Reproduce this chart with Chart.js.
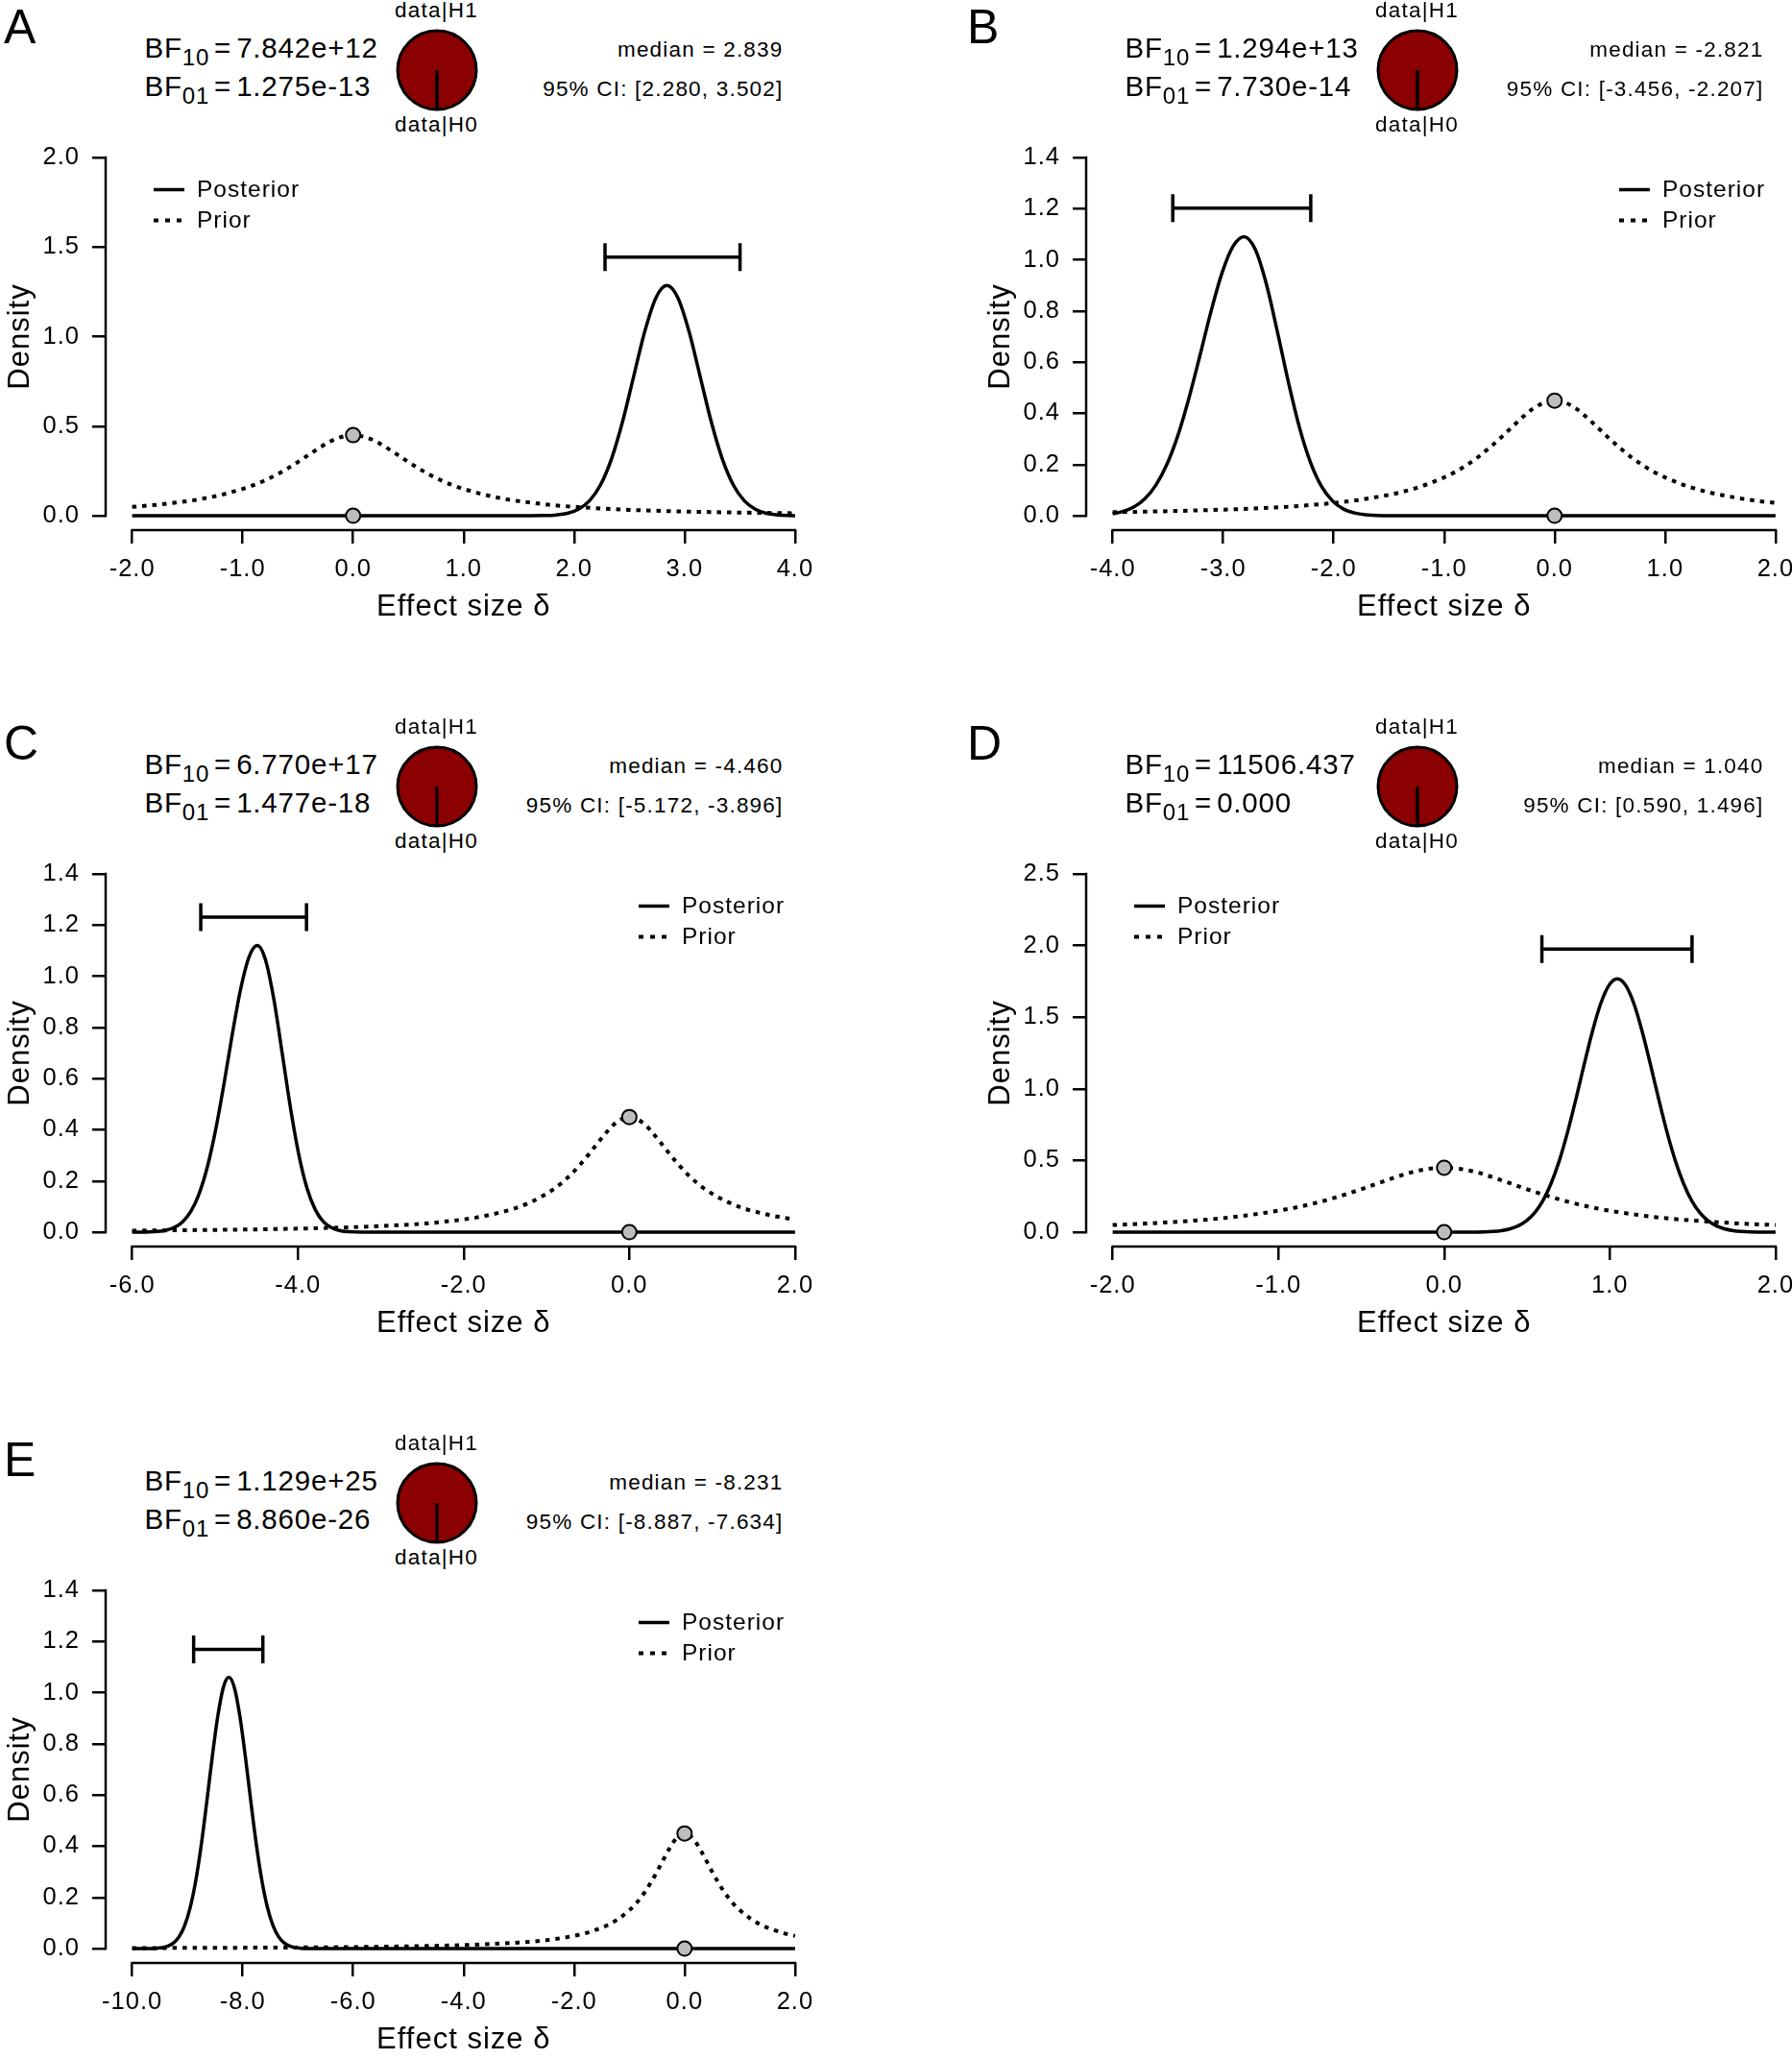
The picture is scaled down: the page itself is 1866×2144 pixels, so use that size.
<!DOCTYPE html>
<html>
<head>
<meta charset="utf-8">
<title>Bayesian t-test posteriors</title>
<script src="https://cdn.jsdelivr.net/npm/chart.js@4.4.1/dist/chart.umd.min.js"></script>
<style>
  html, body { margin: 0; padding: 0; background: #fff; overflow: hidden; }
  #page { position: relative; width: 1866px; height: 2144px; overflow: hidden; background: #fff;
          font-family: "Liberation Sans", Arial, Helvetica, sans-serif; color: #000; }
  .panel { position: absolute; width: 1021px; height: 746px; }
  .panel canvas { position: absolute; }
  .txt { position: absolute; white-space: nowrap; line-height: 1; }
  .bf { letter-spacing: 0.8px; }
  .bf .sub { font-size: 24px; position: relative; top: 7.5px; }
  .bf .eq { margin: 0 5px 0 5px; }
  .stat, .hyp { letter-spacing: 1.2px; }
</style>
</head>
<body>
<div id="page"></div>
<script>
const FONT = "'Liberation Sans', Arial, Helvetica, sans-serif";
Chart.defaults.font.family = FONT;
Chart.defaults.color = "#000";

// ---- panel meta ----
const panelLabels = ["A", "B", "C", "D", "E"];
const panelCol = [0, 1, 0, 1, 0];
const panelRow = [0, 0, 1, 1, 2];
const bf10Labels = ["7.842e+12", "1.294e+13", "6.770e+17", "11506.437", "1.129e+25"];
const bf01Labels = ["1.275e-13", "7.730e-14", "1.477e-18", "0.000", "8.860e-26"];
const bf10Values = [7.842e12, 1.294e13, 6.770e17, 11506.437, 1.129e25];
const medianLabels = ["2.839", "-2.821", "-4.460", "1.040", "-8.231"];
const ciLower = [2.280, -3.456, -5.172, 0.590, -8.887];
const ciUpper = [3.502, -2.207, -3.896, 1.496, -7.634];
const ciBarY = [1.444, 1.202, 1.231, 1.975, 1.169];   // height of the CI bar, in density units
const priorAtZero = [0.45, 0.45, 0.45, 0.45, 0.45];
const posteriorAtZero = [0, 0, 0, 0, 0];

// ---- axes ----
const xTicks = [
  [-2, -1, 0, 1, 2, 3, 4],
  [-4, -3, -2, -1, 0, 1, 2],
  [-6, -4, -2, 0, 2],
  [-2, -1, 0, 1, 2],
  [-10, -8, -6, -4, -2, 0, 2]
];
const yTicks = [
  [0, 0.5, 1.0, 1.5, 2.0],
  [0, 0.2, 0.4, 0.6, 0.8, 1.0, 1.2, 1.4],
  [0, 0.2, 0.4, 0.6, 0.8, 1.0, 1.2, 1.4],
  [0, 0.5, 1.0, 1.5, 2.0, 2.5],
  [0, 0.2, 0.4, 0.6, 0.8, 1.0, 1.2, 1.4]
];

// ---- prior density (same in every panel) ----
const priorX = [-10, -9, -8, -7, -6, -5, -4.5, -4, -3.5, -3, -2.5, -2, -1.8, -1.6, -1.4, -1.2,
  -1, -0.9, -0.8, -0.7, -0.6, -0.5, -0.4, -0.3, -0.2, -0.1, 0,
  0.1, 0.2, 0.3, 0.4, 0.5, 0.6, 0.7, 0.8, 0.9, 1, 1.2, 1.4, 1.6, 1.8, 2, 2.5, 3, 3.5, 4];
const priorY = [0.0022, 0.0028, 0.0035, 0.0045, 0.006, 0.009, 0.011, 0.014, 0.018, 0.024, 0.033, 0.050,
  0.060, 0.074, 0.091, 0.116,
  0.150, 0.171, 0.197, 0.227, 0.262, 0.300, 0.341, 0.381, 0.417, 0.441, 0.450,
  0.441, 0.417, 0.381, 0.341, 0.300, 0.262, 0.227, 0.197, 0.171, 0.150, 0.116, 0.091, 0.074, 0.060,
  0.050, 0.033, 0.024, 0.018, 0.014];

// ---- posterior densities ----
const postXA = [-2.0, 1.4, 1.74, 1.84, 1.94, 2.04, 2.14, 2.24, 2.34, 2.44, 2.54, 2.64, 2.74, 2.84,
  2.94, 3.04, 3.14, 3.24, 3.34, 3.44, 3.54, 3.64, 3.74, 3.84, 3.94, 4.0];
const postYA = [0, 0, 0.0015, 0.005, 0.014, 0.037, 0.084, 0.173, 0.320, 0.528, 0.780, 1.029, 1.216, 1.285,
  1.216, 1.029, 0.780, 0.528, 0.320, 0.173, 0.084, 0.037, 0.014, 0.005, 0.0015, 0.0007];

const postXB = [-4.0, -3.91, -3.81, -3.71, -3.61, -3.51, -3.41, -3.31, -3.21, -3.11, -3.01, -2.91, -2.81,
  -2.71, -2.61, -2.51, -2.41, -2.31, -2.21, -2.11, -2.01, -1.91, -1.81, -1.71, -1.61, -1.3, 2.0];
const postYB = [0.008, 0.0165, 0.034, 0.066, 0.119, 0.200, 0.313, 0.459, 0.626, 0.798, 0.949, 1.053, 1.09,
  1.041, 0.907, 0.721, 0.523, 0.346, 0.209, 0.115, 0.058, 0.026, 0.011, 0.004, 0.0015, 0, 0];

const postXC = [-6.0, -5.79, -5.69, -5.59, -5.49, -5.39, -5.29, -5.19, -5.09, -4.99, -4.89, -4.79, -4.69,
  -4.59, -4.49, -4.39, -4.29, -4.19, -4.09, -3.99, -3.89, -3.79, -3.69, -3.59, -3.49, -3.39, -3.0, 2.0];
const postYC = [0, 0.001, 0.003, 0.008, 0.019, 0.041, 0.082, 0.152, 0.258, 0.404, 0.583, 0.776, 0.951,
  1.075, 1.12, 1.063, 0.910, 0.701, 0.487, 0.305, 0.172, 0.088, 0.040, 0.017, 0.006, 0.002, 0, 0];

const postXD = [-2.0, 0.0, 0.195, 0.245, 0.295, 0.345, 0.395, 0.445, 0.495, 0.545, 0.595, 0.645, 0.695,
  0.745, 0.795, 0.845, 0.895, 0.945, 0.995, 1.045, 1.095, 1.145, 1.195, 1.245, 1.295, 1.345, 1.395,
  1.445, 1.495, 1.545, 1.595, 1.645, 1.695, 1.745, 1.795, 1.845, 1.895, 2.0];
const postYD = [0, 0, 0.001, 0.0024, 0.0053, 0.011, 0.0225, 0.043, 0.078, 0.134, 0.218, 0.339, 0.499,
  0.698, 0.927, 1.170, 1.401, 1.595, 1.723, 1.768, 1.723, 1.595, 1.401, 1.170, 0.927, 0.698, 0.499,
  0.339, 0.218, 0.134, 0.078, 0.043, 0.0225, 0.011, 0.0053, 0.0024, 0.001, 0.0003];

const postXE = [-10.0, -9.65, -9.55, -9.45, -9.35, -9.25, -9.15, -9.05, -8.95, -8.85, -8.75, -8.65, -8.55,
  -8.45, -8.35, -8.25, -8.15, -8.05, -7.95, -7.85, -7.75, -7.65, -7.55, -7.45, -7.35, -7.25, -7.15,
  -7.05, -6.95, -6.85, -6.5, 2.0];
const postYE = [0, 0.0005, 0.0016, 0.0041, 0.010, 0.0224, 0.0465, 0.090, 0.160, 0.264, 0.404, 0.572, 0.749,
  0.908, 1.020, 1.06, 1.020, 0.908, 0.749, 0.572, 0.404, 0.264, 0.160, 0.090, 0.0465, 0.0224, 0.010,
  0.0041, 0.0016, 0.0005, 0, 0];

const posteriorX = [postXA, postXB, postXC, postXD, postXE];
const posteriorY = [postYA, postYB, postYC, postYD, postYE];

// ---- layout (pixels) ----
const PANEL_W = 1021, PANEL_H = 746;
const letterLeft = [4, 1007];
const legendSide = ["left", "right", "right", "left", "right"];

const page = document.getElementById("page");

function toPoints(xs, ys) {
  return xs.map((x, i) => ({ x: x, y: ys[i] }));
}

function addText(parent, cls, html, x, baseline, size, align) {
  const el = document.createElement("div");
  el.className = "txt " + cls;
  el.style.fontSize = size + "px";
  el.innerHTML = html;
  el.style.top = (baseline - 0.8465 * size) + "px";
  if (align === "right") {
    el.style.left = (x - 500) + "px"; el.style.width = "500px"; el.style.textAlign = "right";
  } else if (align === "center") {
    el.style.left = (x - 150) + "px"; el.style.width = "300px"; el.style.textAlign = "center";
  } else {
    el.style.left = x + "px";
  }
  parent.appendChild(el);
  return el;
}

function makeOverlay(i) {
  return {
    id: "overlay" + i,
    beforeDraw(chart) {
      chart.ctx.letterSpacing = "1px";
    },
    afterDatasetsDraw(chart) {
      const ctx = chart.ctx;
      const xs = chart.scales.x, ys = chart.scales.y;
      const area = chart.chartArea;
      const xt = xTicks[i], yt = yTicks[i];
      ctx.save();
      ctx.strokeStyle = "#000";
      ctx.fillStyle = "#000";

      // axis lines only across the tick range, base-R style
      ctx.lineWidth = 2.5;
      ctx.lineCap = "square";
      ctx.beginPath();
      ctx.moveTo(xs.getPixelForValue(xt[0]), area.bottom);
      ctx.lineTo(xs.getPixelForValue(xt[xt.length - 1]), area.bottom);
      ctx.moveTo(area.left, ys.getPixelForValue(yt[0]));
      ctx.lineTo(area.left, ys.getPixelForValue(yt[yt.length - 1]));
      ctx.stroke();

      // 95% credible interval bar
      const cy = ys.getPixelForValue(ciBarY[i]);
      const c0 = xs.getPixelForValue(ciLower[i]);
      const c1 = xs.getPixelForValue(ciUpper[i]);
      ctx.lineWidth = 3.5;
      ctx.lineCap = "butt";
      ctx.beginPath();
      ctx.moveTo(c0, cy); ctx.lineTo(c1, cy);
      ctx.moveTo(c0, cy - 14.5); ctx.lineTo(c0, cy + 14.5);
      ctx.moveTo(c1, cy - 14.5); ctx.lineTo(c1, cy + 14.5);
      ctx.stroke();

      // legend
      const lx = legendSide[i] === "left" ? 160 : 665;
      ctx.lineWidth = 3.5;
      ctx.beginPath();
      ctx.moveTo(lx, 197.5); ctx.lineTo(lx + 32, 197.5);
      ctx.stroke();
      ctx.lineWidth = 4;
      ctx.setLineDash([5, 7]);
      ctx.beginPath();
      ctx.moveTo(lx, 229.5); ctx.lineTo(lx + 29, 229.5);
      ctx.stroke();
      ctx.setLineDash([]);
      ctx.font = "24.5px " + FONT;
      ctx.textAlign = "left";
      ctx.textBaseline = "middle";
      ctx.fillText("Posterior", lx + 45, 198.5);
      ctx.fillText("Prior", lx + 45, 230);
      ctx.restore();
    }
  };
}

function buildPanel(i) {
  const col = panelCol[i], row = panelRow[i];
  const panel = document.createElement("div");
  panel.className = "panel";
  panel.style.left = (col * PANEL_W) + "px";
  panel.style.top = (row * PANEL_H) + "px";
  page.appendChild(panel);

  // panel letter
  addText(page, "letter", panelLabels[i], letterLeft[col], row * PANEL_H + 45, 50, "left");

  // header texts
  addText(panel, "bf", "BF<span class=\"sub\">10</span><span class=\"eq\">=</span>" + bf10Labels[i], 150.5, 60, 29.5, "left");
  addText(panel, "bf", "BF<span class=\"sub\">01</span><span class=\"eq\">=</span>" + bf01Labels[i], 150.5, 100, 29.5, "left");
  addText(panel, "hyp", "data|H1", 454.5, 19.5, 22.5, "center");
  addText(panel, "hyp", "data|H0", 454.5, 138.5, 22.5, "center");
  addText(panel, "stat", "median = " + medianLabels[i], 815.5, 60, 22.5, "right");
  addText(panel, "stat", "95% CI: [" + ciLower[i].toFixed(3) + ", " + ciUpper[i].toFixed(3) + "]", 815.5, 101, 22.5, "right");

  // probability wheel
  const pie = document.createElement("canvas");
  pie.width = 100; pie.height = 100;
  pie.style.left = "404.5px"; pie.style.top = "23px";
  pie.style.width = "100px"; pie.style.height = "100px";
  panel.appendChild(pie);
  const pH1 = bf10Values[i] / (1 + bf10Values[i]);
  new Chart(pie, {
    type: "pie",
    data: {
      labels: ["data|H1", "data|H0"],
      datasets: [{
        data: [pH1, 1 - pH1],
        backgroundColor: ["#8b0000", "#ffffff"],
        borderColor: "#000",
        borderWidth: 3
      }]
    },
    options: {
      responsive: false,
      animation: false,
      devicePixelRatio: 1,
      rotation: 180,
      radius: 41,
      layout: { padding: 0 },
      plugins: { legend: { display: false }, tooltip: { enabled: false } }
    }
  });

  // density plot
  const cv = document.createElement("canvas");
  cv.width = PANEL_W; cv.height = PANEL_H;
  cv.style.left = "0px"; cv.style.top = "0px";
  cv.style.width = PANEL_W + "px"; cv.style.height = PANEL_H + "px";
  panel.appendChild(cv);

  const xt = xTicks[i], yt = yTicks[i];
  const xLo = xt[0], xHi = xt[xt.length - 1];
  const yHi = yt[yt.length - 1];
  const prior = toPoints(priorX, priorY).filter(p => p.x >= xLo && p.x <= xHi);

  new Chart(cv, {
    type: "line",
    data: {
      datasets: [
        {
          label: "points",
          data: [{ x: 0, y: priorAtZero[i] }, { x: 0, y: posteriorAtZero[i] }],
          showLine: false,
          pointRadius: 7.5,
          pointBorderWidth: 2,
          pointBackgroundColor: "#bdbdbd",
          pointBorderColor: "#000",
          order: 0,
          clip: false
        },
        {
          label: "Posterior",
          data: toPoints(posteriorX[i], posteriorY[i]),
          borderColor: "#000",
          borderWidth: 3.5,
          pointRadius: 0,
          cubicInterpolationMode: "monotone",
          order: 1,
          clip: false
        },
        {
          label: "Prior",
          data: prior,
          borderColor: "#000",
          borderWidth: 4,
          borderDash: [4.5, 6],
          pointRadius: 0,
          cubicInterpolationMode: "monotone",
          order: 2,
          clip: false
        }
      ]
    },
    options: {
      responsive: false,
      animation: false,
      devicePixelRatio: 1,
      layout: { padding: { left: 0, top: 149, right: 165.5, bottom: 0 } },
      scales: {
        x: {
          type: "linear",
          min: xLo - 0.04 * (xHi - xLo),
          max: xHi + 0.04 * (xHi - xLo),
          afterFit: s => { s.height = 194; },
          afterBuildTicks: s => { s.ticks = xt.map(v => ({ value: v })); },
          border: { display: false },
          grid: { drawOnChartArea: false, drawTicks: true, tickLength: 14, color: "#000", lineWidth: 2.5 },
          ticks: { autoSkip: false, maxRotation: 0, padding: 12, color: "#000",
                   font: { size: 25.5 }, callback: v => v.toFixed(1) },
          title: { display: true, text: "Effect size \u03b4", color: "#000",
                   font: { size: 31 }, padding: { top: 0, bottom: 95 } }
        },
        y: {
          type: "linear",
          min: -0.04 * yHi,
          max: 1.04 * yHi,
          afterFit: s => { s.width = 110; },
          afterBuildTicks: s => { s.ticks = yt.map(v => ({ value: v })); },
          border: { display: false },
          grid: { drawOnChartArea: false, drawTicks: true, tickLength: 14, color: "#000", lineWidth: 2.5 },
          ticks: { autoSkip: false, padding: 13, color: "#000",
                   font: { size: 25.5 }, callback: v => v.toFixed(1) },
          title: { display: true, text: "Density", color: "#000",
                   font: { size: 31 }, padding: { top: 3, bottom: 0 } }
        }
      },
      plugins: { legend: { display: false }, tooltip: { enabled: false } }
    },
    plugins: [makeOverlay(i)]
  });
}

panelLabels.forEach((_, i) => buildPanel(i));
</script>
</body>
</html>
